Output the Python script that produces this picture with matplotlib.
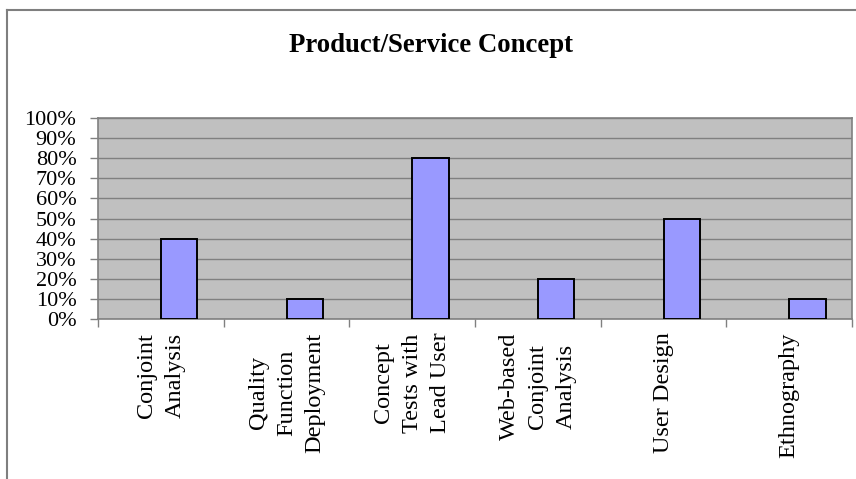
import matplotlib.pyplot as plt
from matplotlib.lines import Line2D
from matplotlib.ticker import PercentFormatter

categories = ['Conjoint\nAnalysis', 'Quality\nFunction\nDeployment', 'Concept\nTests with\nLead User',
              'Web-based\nConjoint\nAnalysis', 'User Design', 'Ethnography']
shares = [0.40, 0.10, 0.80, 0.20, 0.50, 0.10]
y_ticks = [i / 10 for i in range(11)]

plt.rcParams['font.family'] = ['Liberation Serif', 'DejaVu Serif']

fig = plt.figure(figsize=(8.56, 4.79), dpi=100)
ax = fig.add_axes([98 / 856, 1 - 318.7 / 479, (852 - 98) / 856, 200.4 / 479])

ax.set_facecolor('#c0c0c0')
ax.bar(range(len(shares)), shares, width=0.29, align='edge',
       color='#9999ff', edgecolor='black', linewidth=1.4, zorder=3)

ax.set_xlim(-0.5, len(shares) - 0.5)
ax.set_ylim(0, 1)
ax.set_yticks(y_ticks)
ax.yaxis.set_major_formatter(PercentFormatter(1.0, decimals=0))
ax.grid(axis='y', color='#808080', linewidth=1, zorder=1)

# category boundaries get the tick marks, centres get the labels
ax.set_xticks([i - 0.5 for i in range(len(shares) + 1)])
ax.set_xticklabels([])
ax.set_xticks(range(len(shares)), minor=True)
ax.set_xticklabels(categories, minor=True, rotation=90, ha='center', va='top',
                   multialignment='center', fontsize=17.5, linespacing=1.45)
ax.tick_params(axis='x', which='minor', length=0, pad=10)
ax.tick_params(axis='x', which='major', length=6, color='#808080', width=1)
ax.tick_params(axis='y', length=6, color='#808080', width=1, labelsize=16, pad=9.5)

for s in ax.spines.values():
    s.set_color('#808080')
    s.set_linewidth(1.2)

fig.text(0.504, 1 - 46 / 479, 'Product/Service Concept', ha='center', va='center',
         fontsize=19.3, fontweight='bold')

# outer chart frame (top and left edges)
fig.add_artist(Line2D([7 / 856, 1], [1 - 10 / 479] * 2, transform=fig.transFigure,
                      color='#7f7f7f', linewidth=1.5))
fig.add_artist(Line2D([7 / 856] * 2, [0, 1 - 10 / 479], transform=fig.transFigure,
                      color='#7f7f7f', linewidth=1.5))

fig.savefig('out.png', dpi=100)
